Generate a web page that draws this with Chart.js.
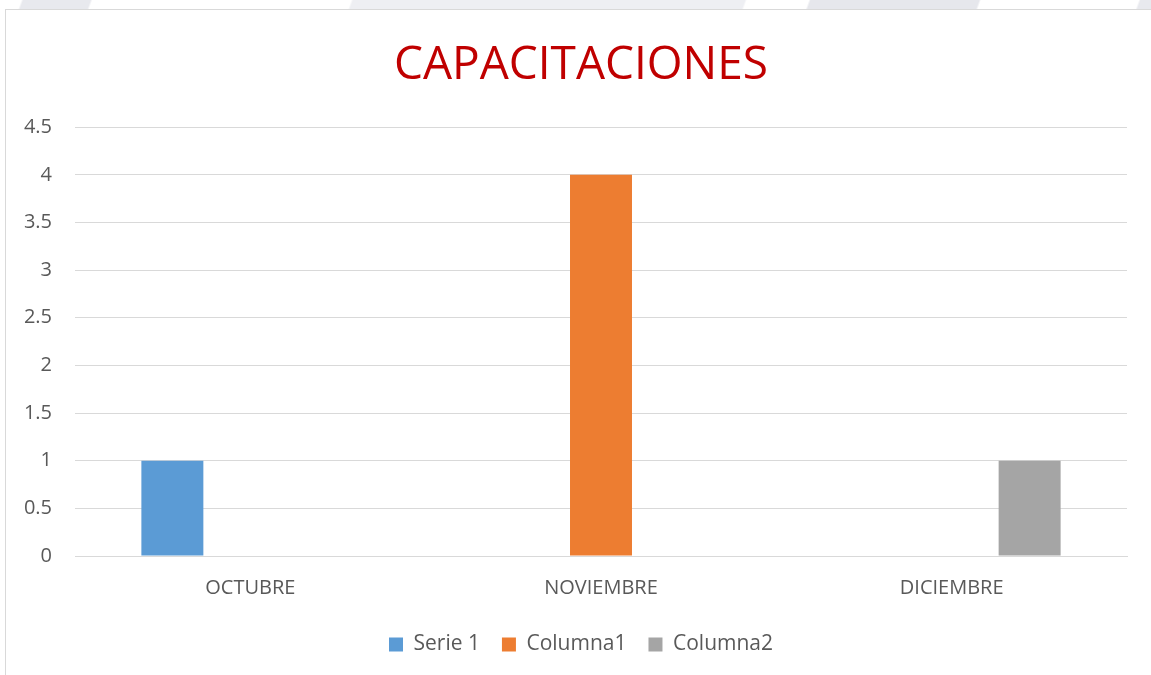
<!DOCTYPE html>
<html>
<head>
<meta charset="utf-8">
<script src="https://cdn.jsdelivr.net/npm/chart.js@4.4.1/dist/chart.umd.min.js"></script>
<style>
  html, body { margin: 0; padding: 0; background: #fff; }
  body { width: 1151px; height: 675px; position: relative; overflow: hidden; }
  /* faint slide watermark strip above the chart frame */
  #strip {
    position: absolute; left: 0; top: 0; width: 1151px; height: 9px;
    background: linear-gradient(110deg,
      #fff 0px, #fff 20px, #e8e9ee 22px, #e8e9ee 85px, #fff 87px, #fff 330px,
      #eeeff3 332px, #eeeff3 700px, #fff 702px, #fff 760px, #e6e7ec 762px,
      #e6e7ec 920px, #fff 922px, #fff 1070px, #e8e9ee 1072px, #e8e9ee 1151px);
  }
  #frame {
    position: absolute; left: 5px; top: 9px; width: 1160px; height: 680px;
    border: 1px solid #d9d9d9; box-sizing: border-box; background: #fff;
  }
  #wrap { position: absolute; left: 6px; top: 10px; width: 1145px; height: 665px; }
</style>
</head>
<body>
<div id="strip"></div>
<div id="frame"></div>
<div id="wrap"><canvas id="chart"></canvas></div>
<script>
/*
 * Capacitaciones column chart
**/
const months = ['OCTUBRE', 'NOVIEMBRE', 'DICIEMBRE']
const serie1 = [1, null, null]
const columna1 = [null, 4, null]
const columna2 = [null, null, 1]
const yTicks = [0, 0.5, 1, 1.5, 2, 2.5, 3, 3.5, 4, 4.5]

const textColor = '#595959'
const gridColor = '#d9d9d9'
const font = 'Open Sans'

const bar = (label, data, color) => ({
  label: label,
  data: data,
  backgroundColor: color,
  borderWidth: 0,
  barPercentage: 0.795,
  categoryPercentage: 0.667
})

const config = {
  type: 'bar',
  data: {
    labels: months,
    datasets: [
      bar('Serie 1', serie1, '#5b9bd5'),
      bar('Columna1', columna1, '#ed7d31'),
      bar('Columna2', columna2, '#a5a5a5')
    ]
  },
  options: {
    responsive: true,
    maintainAspectRatio: false,
    animation: false,
    layout: { padding: { left: 5, right: 0, top: 28, bottom: 10 } },
    scales: {
      x: {
        grid: { display: false },
        border: { display: true, color: gridColor, width: 1 },
        ticks: { color: textColor, font: { family: font, size: 20 }, padding: 12 }
      },
      y: {
        min: 0,
        max: 4.5,
        afterBuildTicks: axis => { axis.ticks = yTicks.map(v => ({ value: v })) },
        afterFit: axis => { axis.width = 64 },
        grid: { color: gridColor, lineWidth: 1, drawTicks: false },
        border: { display: false },
        ticks: {
          color: textColor,
          font: { family: font, size: 20 },
          padding: 23,
          callback: v => String(v)
        }
      },
      // empty right margin axis so the title stays centred on the whole frame
      yRight: {
        position: 'right',
        afterFit: axis => { axis.width = 24 },
        grid: { display: false },
        border: { display: false },
        ticks: { display: false }
      }
    },
    plugins: {
      title: {
        display: true,
        text: 'CAPACITACIONES',
        color: '#c00000',
        font: { family: font, size: 46, weight: 'normal' },
        padding: { top: 0, bottom: 34 }
      },
      legend: {
        position: 'bottom',
        labels: {
          color: textColor,
          font: { family: font, size: 21 },
          boxWidth: 14,
          boxHeight: 14,
          padding: 22
        }
      },
      tooltip: { enabled: false }
    }
  }
}

new Chart(document.getElementById('chart'), config)
</script>
</body>
</html>
